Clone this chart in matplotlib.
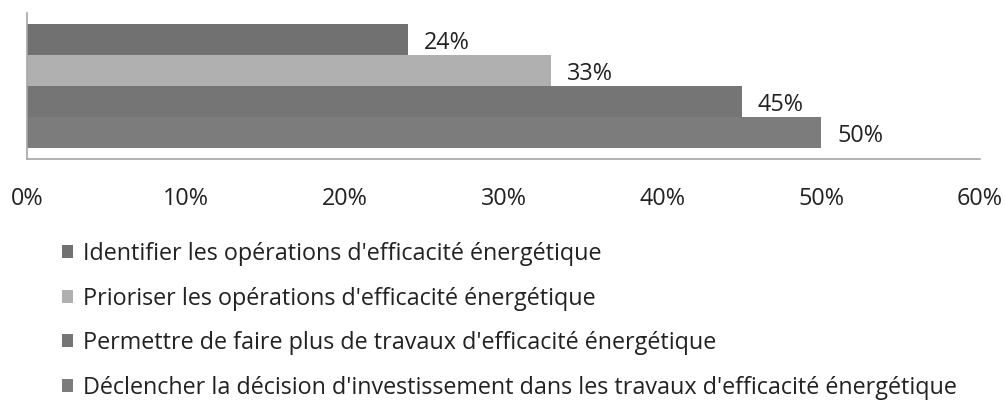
import matplotlib.pyplot as plt
import numpy as np

labels = [
    "Identifier les opérations d'efficacité énergétique",
    "Prioriser les opérations d'efficacité énergétique",
    "Permettre de faire plus de travaux d'efficacité énergétique",
    "Déclencher la décision d'investissement dans les travaux d'efficacité énergétique",
]
values = [24, 33, 45, 50]
colors = ["#717171", "#b0b0b0", "#757575", "#7c7c7c"]
xticks = [0, 10, 20, 30, 40, 50, 60]

plt.rcParams['font.family'] = ['Open Sans', 'DejaVu Sans']
FS = 16.8

fig = plt.figure(figsize=(10.06, 4.07), dpi=100)
ax = fig.add_axes([27 / 1006, 1 - 159 / 407, (980 - 27) / 1006, 146 / 407])

bar_h = 0.849 / 4
top = 0.849 / 2
handles = []
for i, (lab, v, c) in enumerate(zip(labels, values, colors)):
    y = top - bar_h * (i + 0.5)
    b = ax.barh(y, v, height=bar_h, color=c, label=lab)
    handles.append(b)
    ax.text(v + 1.0, y - 0.025, f"{v}%", va='center', ha='left', fontsize=FS, color='#222222')

ax.set_xlim(0, 60)
ax.set_ylim(-0.5, 0.5)
ax.set_xticks(xticks)
ax.set_xticklabels([f"{t}%" for t in xticks], fontsize=FS, color='#222222')
ax.tick_params(axis='x', length=0, pad=20.5)
ax.set_yticks([])
for s in ['top', 'right']:
    ax.spines[s].set_visible(False)
for s in ['left', 'bottom']:
    ax.spines[s].set_color('#a6a6a6')
    ax.spines[s].set_linewidth(1.2)

fig.legend(handles=handles, labels=labels, loc='upper left',
           bbox_to_anchor=(62 / 1006, 1 - 242 / 407), frameon=False,
           fontsize=FS, handlelength=0.47, handleheight=0.47,
           handletextpad=0.42, labelspacing=0.88, borderpad=0,
           borderaxespad=0, labelcolor='#222222')

fig.savefig('out.png', dpi=100)
